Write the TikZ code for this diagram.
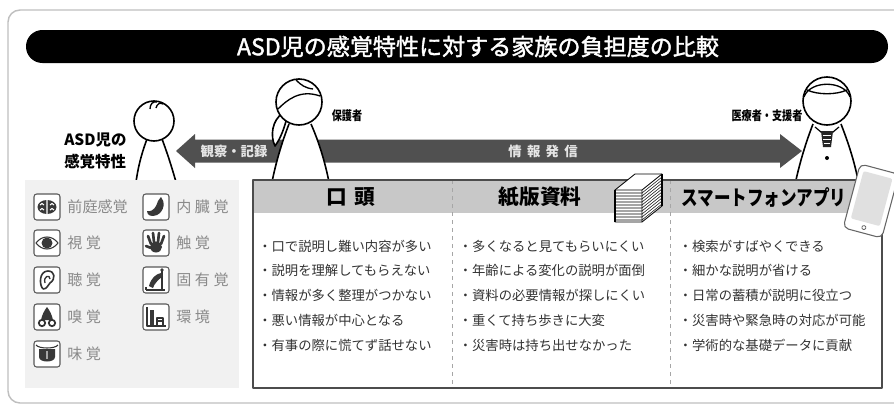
\documentclass[tikz,border=0pt]{standalone}
\usepackage{fontspec}
\setmainfont{Noto Sans CJK JP}
\newfontfamily\titlefont[FakeBold=1.6]{Noto Sans CJK JP}
\definecolor{bandgray}{HTML}{505050}
\definecolor{headgray}{HTML}{C8C8C8}
\definecolor{panelgray}{HTML}{F1F1F1}
\definecolor{textgray}{HTML}{333333}
\definecolor{sensegray}{HTML}{8A8A8A}
\newcommand{\fsz}[1]{\fontsize{#1}{#1}\selectfont}

\begin{document}
\begin{tikzpicture}[x=0.75pt,y=-0.75pt,line join=round,
    every node/.style={inner sep=0pt},
    person/.style={draw=black,line width=1.2pt,fill=white},
    iconbox/.style={draw=black!65,fill=white,rounded corners=2pt,minimum size=19.5pt,line width=0.8pt},
    glyph/.style={fill=black!78},
    sense/.style={anchor=west,text=sensegray,font=\fsz{11.3}},
    item/.style={anchor=west,text=textgray,font=\fsz{10}},
    colhead/.style={font=\fsz{15.5}\bfseries},
    whotext/.style={font=\fsz{9.5}\bfseries},
    bandtext/.style={text=black!10,font=\fsz{10}\bfseries}]
    \useasboundingbox (0,0) rectangle (894,404);
    \clip (0,0) rectangle (894,404);

    % Frame and title bar
    \draw[black!25,line width=1.1pt,rounded corners=9pt] (8,10) rectangle (920,403);
    \fill[rounded corners=12.3pt] (26,30) rectangle (888,63);
    \node[text=white,font=\titlefont\fsz{17.3}] (title) at (478,46.5) {ASD児の感覚特性に対する家族の負担度の比較};

    % Two-way band
    \fill[bandgray] (176,151) -- (195,134) -- (195,139.5) -- (780,139.5) -- (780,134)
      -- (802,151) -- (780,168) -- (780,162.5) -- (195,162.5) -- (195,168) -- cycle;
    \node[bandtext] (observe) at (234,151) {観察・記録};
    \node[bandtext] (inform) at (543,151) {情\kern4pt報\kern4pt発\kern4pt信};

    % Child
    \path[fill=white] (147,139) .. controls (141,155) and (138,168) .. (136,182) -- (176,182)
      .. controls (172,168) and (168,155) .. (162,139) -- cycle;
    \draw[line width=1.2pt] (147,139) .. controls (141,155) and (138,168) .. (136,182)
      (162,139) .. controls (168,155) and (172,168) .. (176,182);
    \draw[person] (154,121) circle (20);
    \draw[line width=1pt] (150,109) .. controls (150,104) and (153,101) .. (157,102)
      (156,108) .. controls (157,104) and (160,102) .. (163,104);
    \node[anchor=west,align=left,font=\fontsize{11.6}{16.5}\selectfont\bfseries] (asd) at (64,151) {ASD児の\\感覚特性};

    % Parent
    \draw[person] (283,113) .. controls (272,120) and (270,136) .. (275,146)
      .. controls (281,138) and (285,126) .. (287,117);
    \path[fill=white] (289,124) .. controls (282,142) and (276,162) .. (272,182) -- (329,182)
      .. controls (325,162) and (319,142) .. (311,124) -- cycle;
    \draw[line width=1.2pt] (289,124) .. controls (282,142) and (276,162) .. (272,182)
      (311,124) .. controls (319,142) and (325,162) .. (329,182);
    \draw[person] (299,102) circle (23);
    \draw[line width=1pt] (278,109) .. controls (287,100) and (300,89) .. (320,96)
      (296,80) .. controls (301,85) and (305,88) .. (313,89);
    \node[whotext] (parent) at (347,116) {\scalebox{.8}[1]{保護者}};

    % Medical staff
    \path[fill=white] (813,124) .. controls (806,142) and (800,162) .. (796,180) -- (858,180)
      .. controls (854,162) and (848,142) .. (841,124) -- cycle;
    \draw[line width=1.2pt] (813,124) .. controls (806,142) and (800,162) .. (796,180)
      (841,124) .. controls (848,142) and (854,160) .. (858,180);
    \draw[person] (827,101) circle (24);
    \draw[line width=1pt] (804,97) .. controls (810,80) and (844,80) .. (850,97)
      (807,90) .. controls (818,95) and (836,95) .. (847,90);
    \draw[line width=0.9pt] (815,127) -- (827,137) -- (839,127);
    \fill[black!85] (821,131) -- (833,131) -- (831,147) -- (823,147) -- cycle;
    \draw[white,line width=0.5pt] (823,135) -- (831,135) (823,139) -- (831,139) (824,143) -- (830,143);
    \fill (827,158) circle (2);
    \node[whotext] (staff) at (767,116) {\scalebox{.8}[1]{医療者・支援者}};

    % Senses panel
    \fill[panelgray] (25,180) rectangle (239,388);
    \foreach \n/\x/\y in {vest/47/207, sight/47/243, hear/47/280, smell/47/317, taste/47/354,
                          organ/156/207, touch/156/243, joint/156/280, env/156/317}
      \node[iconbox] (\n) at (\x,\y) {};
    \foreach \n/\t in {vest/前庭感覚, sight/視\kern2.6pt覚, hear/聴\kern2.6pt覚,
                       smell/嗅\kern2.6pt覚, taste/味\kern2.6pt覚, organ/内\kern2.6pt臓\kern2.6pt覚,
                       touch/触\kern2.6pt覚, joint/固\kern2.6pt有\kern2.6pt覚, env/環\kern2.6pt境}
      \node[sense] (\n-lbl) at ([xshift=5pt]\n.east) {\t};

    % Icon glyphs
    \begin{scope}[shift={(vest)}]
      \fill[glyph] (0,0) ellipse (9.5 and 7);
      \draw[white,line width=0.8pt] (0,-7) -- (0,7) (-7,-2) .. controls (-5,-4) .. (-3,-2)
        (3,-2) .. controls (5,-4) .. (7,-2) (-7,3) .. controls (-5,1) .. (-3,3) (3,3) .. controls (5,1) .. (7,3);
    \end{scope}
    \begin{scope}[shift={(sight)}]
      \draw[black!78,line width=0.8pt] (-11,0) .. controls (-5,-8) and (5,-8) .. (11,0)
        .. controls (5,8) and (-5,8) .. (-11,0);
      \fill[glyph] (0,0) circle (5.5);
    \end{scope}
    \begin{scope}[shift={(hear)}]
      \draw[black!80,line width=1.2pt] (-4,9) .. controls (-8,5) and (-8,-9) .. (1,-9)
        .. controls (8,-9) and (9,-1) .. (3,3) .. controls (0,5) and (1,9) .. (-4,9);
      \draw[black!80,line width=1pt] (-2,3) .. controls (-4,-4) and (3,-6) .. (3,-1);
    \end{scope}
    \begin{scope}[shift={(smell)}]
      \fill[glyph] (0,-10) .. controls (3,-6) and (5,-2) .. (6,3) -- (-6,3) .. controls (-5,-2) and (-3,-6) .. (0,-10);
      \filldraw[fill=white,draw=black!80,line width=1.3pt] (-5,6) circle (3.2) (5,6) circle (3.2);
    \end{scope}
    \begin{scope}[shift={(taste)}]
      \draw[black!80,line width=0.8pt] (-11,-9) .. controls (-8,-5) and (8,-5) .. (11,-9);
      \fill[glyph] (-8,-5) -- (8,-5) -- (8,3) .. controls (8,9) and (-8,9) .. (-8,3) -- cycle;
      \draw[black!35,line width=0.8pt] (0,-3) -- (0,5);
    \end{scope}
    \begin{scope}[shift={(organ)}]
      \fill[glyph] (5,-10) .. controls (9,-6) and (9,4) .. (1,8) .. controls (-4,10) and (-9,9) .. (-9,4)
        .. controls (-6,5) and (-2,3) .. (0,-1) .. controls (2,-5) and (2,-8) .. (5,-10) -- cycle;
    \end{scope}
    \begin{scope}[shift={(touch)}]
      \fill[glyph] (0,4) ellipse (6 and 5.5);
      \draw[black!78,line width=2pt,line cap=round] (-5,1) -- (-8,-7) (-2,-1) -- (-3,-10)
        (2,-1) -- (3,-10) (5,1) -- (8,-7) (-5,5) -- (-10,3);
    \end{scope}
    \begin{scope}[shift={(joint)}]
      \draw[black!80,line width=0.8pt] (-10,10) -- (9,10) (-10,7) -- (-10,10) (6,-10) -- (6,10);
      \fill[glyph] (-7,6) .. controls (-5,-2) and (0,-6) .. (5,-7) -- (7,-4) .. controls (2,0) and (-2,4) .. (-3,8) -- cycle;
      \fill[glyph] (6,-10) circle (1.8);
    \end{scope}
    \begin{scope}[shift={(env)}]
      \draw[black!80,line width=0.8pt] (-9,-10) -- (-9,9) -- (10,9);
      \fill[glyph] (-6,-7) rectangle (-2,8);
      \draw[black!80,line width=0.8pt] (1,8) -- (1,1) -- (7,1) -- (7,8) (1,4) -- (7,4);
    \end{scope}

    % Comparison table
    \fill[white] (253,180) rectangle (882,388);
    \fill[headgray] (253,180) rectangle (882,213);
    \draw[black!35,dashed] (452,180) -- (452,388) (670,180) -- (670,388);
    \draw[black!70,line width=0.9pt] (253,180) rectangle (882,388);
    \node[colhead] (oral) at (351,197) {口\kern6pt頭};
    \node[colhead] (paper) at (540,197) {紙版資料};
    \node[colhead] (app) at (764,197) {\scalebox{.8}[1]{スマートフォンアプリ}};

    \foreach \t [count=\i] in {口で説明し難い内容が多い, 説明を理解してもらえない,
        情報が多く整理がつかない, 悪い情報が中心となる, 有事の際に慌てず話せない}
      \node[item] (oral\i) at (258,{221.5+24.7*\i}) {・\t};
    \foreach \t [count=\i] in {多くなると見てもらいにくい, 年齢による変化の説明が面倒,
        資料の必要情報が探しにくい, 重くて持ち歩きに大変, 災害時は持ち出せなかった}
      \node[item] (paper\i) at (458.5,{221.5+24.7*\i}) {・\t};
    \foreach \t [count=\i] in {検索がすばやくできる, 細かな説明が省ける,
        日常の蓄積が説明に役立つ, 災害時や緊急時の対応が可能, 学術的な基礎データに貢献}
      \node[item] (app\i) at (678.5,{221.5+24.7*\i}) {・\t};

    % Paper stack
    \begin{scope}[shift={(615,190)}]
      \filldraw[fill=white,line width=0.6pt] (0,0) -- (20,-16) -- (47,-16) -- (47,16) -- (27,32) -- (0,32) -- cycle;
      \draw[line width=0.6pt] (0,0) -- (27,0) -- (47,-16) (27,0) -- (27,32);
      \foreach \k in {1,...,10}
        \draw[line width=0.4pt] (0,{3*\k}) -- (27,{3*\k}) -- (47,{3*\k-16});
      \draw[line width=1.4pt] (0,0) -- (0,32) (47,-16) -- (47,16);
    \end{scope}

    % Tablet
    \begin{scope}[shift={(871,201)},rotate=-15]
      \filldraw[fill=white,draw=black!60,line width=0.8pt,rounded corners=4pt] (-20,-33) rectangle (20,33);
      \fill[black!12,rounded corners=1.5pt] (-15,-27) rectangle (15,22);
      \draw[black!60,line width=0.6pt] (0,27.5) circle (2);
    \end{scope}
\end{tikzpicture}
\end{document}
